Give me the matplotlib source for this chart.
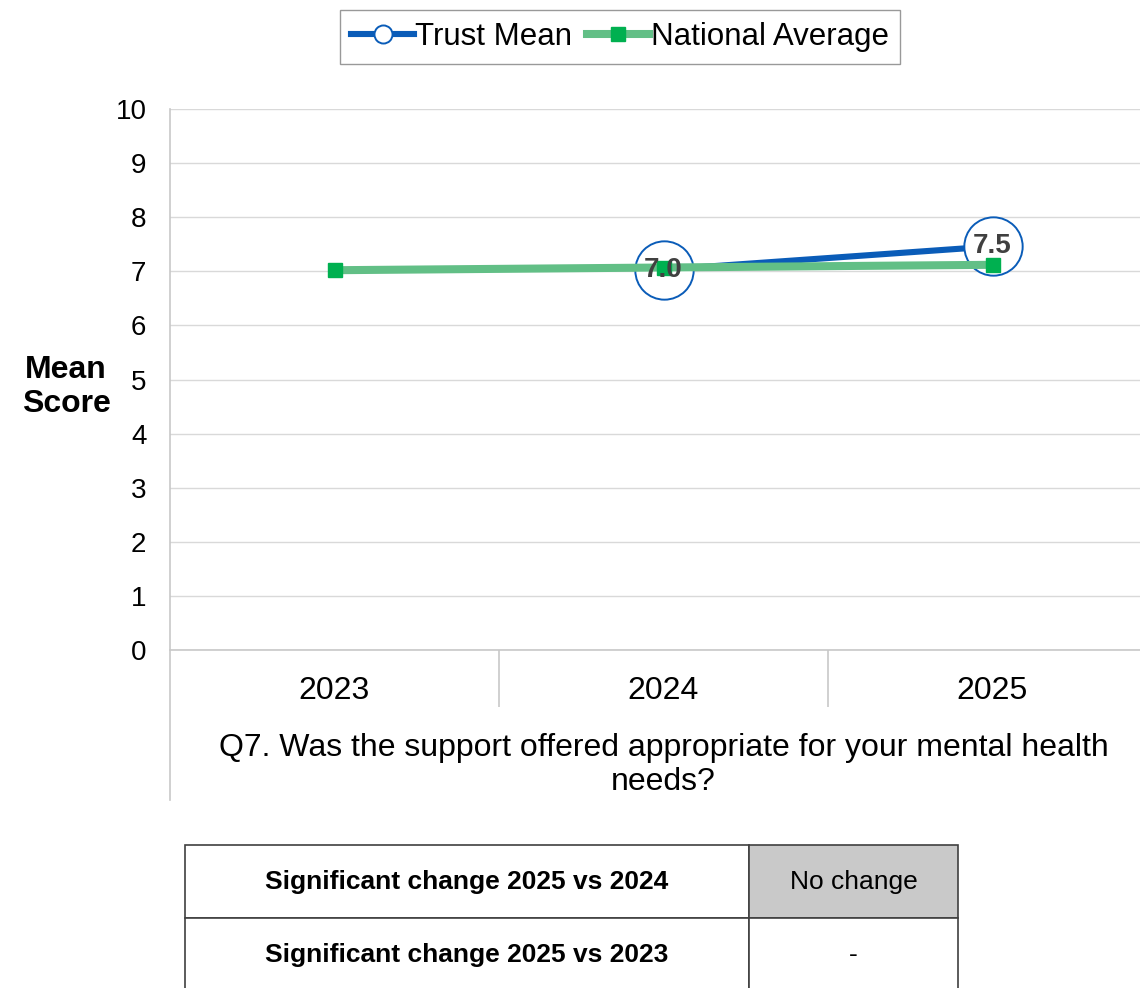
import numpy as np
import matplotlib
matplotlib.use("Agg")
import matplotlib.pyplot as plt
from matplotlib.lines import Line2D

plt.rcParams['font.family'] = ['Liberation Sans', 'DejaVu Sans']

years = ['2023', '2024', '2025']
trust_mean = [np.nan, 7.03, 7.46]
trust_labels = ['', '7.0', '7.5']
national_avg = [7.02, 7.07, 7.12]
question = "Q7. Was the support offered appropriate for your mental health\nneeds?"
table_rows = [["Significant change 2025 vs 2024", "No change"],
              ["Significant change 2025 vs 2023", "-"]]

W, H = 1140, 988
fig = plt.figure(figsize=(W / 100, H / 100), dpi=100)

# axes box in pixel units -> figure fractions
ax_l, ax_t, ax_b, ax_w = 170, 109, 650, 987
ax = fig.add_axes([ax_l / W, 1 - ax_b / H, ax_w / W, (ax_b - ax_t) / H])

blue = '#0a5cb8'
green_line = '#62bf86'
green_mark = '#00b050'

x = np.arange(len(years))
ax.plot(x, trust_mean, color=blue, lw=4.4, zorder=3)
ax.plot(x, trust_mean, ls='none', marker='o', ms=42, mfc='white', mec=blue, mew=1.4, zorder=4)
ax.plot(x, national_avg, color=green_line, lw=5.8, zorder=5)
ax.plot(x, national_avg, ls='none', marker='s', ms=10, color=green_mark, zorder=6)
for xi, yi, lab in zip(x, trust_mean, trust_labels):
    if lab:
        ax.text(xi, yi, lab, ha='center', va='center', fontsize=20, fontweight='bold',
                color='#404040', zorder=7)

ax.set_xlim(-0.5, 2.5)
ax.set_ylim(0, 10)
ax.set_yticks(range(0, 11))
ax.grid(axis='y', color='#d9d9d9', lw=1)
ax.set_axisbelow(True)
ax.tick_params(axis='y', length=0, labelsize=20, pad=17)
ax.set_xticks(x)
ax.set_xticklabels(years)
ax.tick_params(axis='x', which='major', length=0, labelsize=23, pad=19)
ax.set_xticks([0.5, 1.5], minor=True)
ax.tick_params(axis='x', which='minor', length=41, color='#c8c8c8', width=1.2)
for s in ['top', 'right', 'left']:
    ax.spines[s].set_visible(False)
ax.spines['bottom'].set_color('#c8c8c8')
ax.spines['bottom'].set_linewidth(1.2)
ax.set_xlabel(question, fontsize=23, labelpad=15, linespacing=1.2)

# left axis line runs down past the category labels
fig.add_artist(Line2D([ax_l / W, ax_l / W], [1 - ax_t / H, 1 - 800 / H],
                      color='#c8c8c8', lw=1.2, transform=fig.transFigure))

fig.text(66 / W, 1 - 387 / H, "Mean\nScore", ha='center', va='center',
         fontsize=23, fontweight='bold', linespacing=1.2)

handles = [Line2D([], [], color=blue, lw=4.4, marker='o', ms=13, mfc='white', mec=blue, mew=1.4),
           Line2D([], [], color=green_line, lw=5.8, marker='s', ms=10, mfc=green_mark, mec=green_mark)]
fig.legend(handles, ['Trust Mean', 'National Average'], loc='center',
           bbox_to_anchor=(620 / W, 1 - 37 / H), ncol=2, fontsize=22.5, frameon=True,
           fancybox=False, edgecolor='#808080', handlelength=2.0, handletextpad=0.05,
           columnspacing=0.45, borderpad=0.38, borderaxespad=0)

# significance table
tb_l, tb_r, tb_t, tb_b = 185, 958, 845, 991
tax = fig.add_axes([tb_l / W, 1 - tb_b / H, (tb_r - tb_l) / W, (tb_b - tb_t) / H])
tax.axis('off')
tbl = tax.table(cellText=table_rows, bbox=[0, 0, 1, 1],
                colWidths=[564 / 773, 209 / 773], cellLoc='center')
tbl.auto_set_font_size(False)
for (r, c), cell in tbl.get_celld().items():
    cell.set_edgecolor('#404040')
    cell.set_linewidth(1.2)
    cell.get_text().set_fontsize(19)
    if c == 0:
        cell.get_text().set_fontweight('bold')
    if r == 0 and c == 1:
        cell.set_facecolor('#c9c9c9')

fig.savefig('out.png', dpi=100)
